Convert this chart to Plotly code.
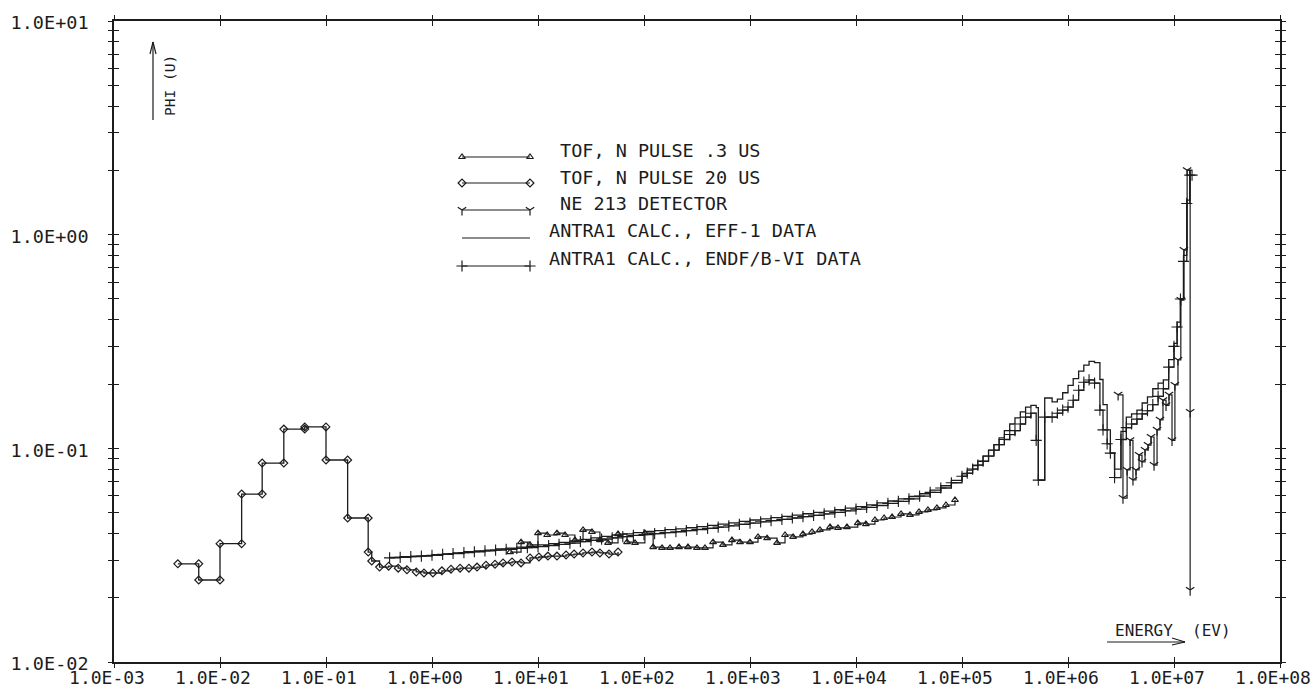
import plotly.graph_objects as go

# ---------------- data ----------------
# TOF, N PULSE 20 US : coarse thermal bins (bin edges in eV) and flux values
TOF20_COARSE_EDGES = [0.004, 0.0063, 0.01, 0.016, 0.025, 0.04, 0.063, 0.1, 0.16, 0.25]
TOF20_COARSE_PHI = [0.0288, 0.0242, 0.0358, 0.0611, 0.0853, 0.123, 0.126, 0.0882, 0.0472]
# TOF, N PULSE 20 US : fine bins (lower edge in eV) and flux values
TOF20_FINE_E = [0.25, 0.27, 0.32, 0.39, 0.48, 0.58, 0.71, 0.84, 1.02, 1.24,
                1.51, 1.84, 2.23, 2.66, 3.23, 3.93, 4.68, 5.69, 6.92, 8.41,
                10.2, 12.4, 15.1, 18.4, 21.9, 26.6, 32.3, 38.4, 46.8, 56.9]
TOF20_FINE_PHI = [0.0327, 0.0297, 0.0278, 0.0281, 0.0275, 0.0270, 0.0264, 0.0261, 0.0261, 0.0267,
                  0.0272, 0.0275, 0.0275, 0.0278, 0.0284, 0.0287, 0.0291, 0.0294, 0.0291, 0.0307,
                  0.0310, 0.0313, 0.0313, 0.0317, 0.0320, 0.0324, 0.0327, 0.0324, 0.0320, 0.0327]

# TOF, N PULSE .3 US
TOF03_E = [5.44, 6.92, 8.41, 10.0, 12.2, 15.1, 18.0, 22.3, 26.6, 32.3,
           38.4, 45.8, 56.9, 69.2, 82.3, 102, 122, 148, 176, 214,
           260, 316, 376, 448, 556, 676, 805, 1000, 1190, 1450,
           1800, 2140, 2550, 3160, 3850, 4570, 5690, 6760, 8220, 10400,
           12400, 15100, 18400, 21900, 26600, 32300, 39300, 47700, 58000, 70600, 85900]
TOF03_PHI = [0.0327, 0.0364, 0.0353, 0.0401, 0.0393, 0.0401, 0.0393, 0.0372, 0.0415, 0.0406,
             0.0372, 0.0361, 0.0397, 0.0364, 0.0361, 0.0401, 0.0345, 0.0342, 0.0342, 0.0345,
             0.0345, 0.0342, 0.0342, 0.0364, 0.0353, 0.0372, 0.0364, 0.0364, 0.0385, 0.0380,
             0.0361, 0.0393, 0.0385, 0.0397, 0.0406, 0.0415, 0.0428, 0.0424, 0.0428, 0.0447,
             0.0442, 0.0462, 0.0472, 0.0477, 0.0493, 0.0488, 0.0504, 0.0515, 0.0526, 0.0543, 0.0573]

# NE 213 DETECTOR
NE213_E = [2.97e6, 3.30e6, 3.61e6, 3.85e6, 4.10e6, 4.38e6, 4.68e6, 4.99e6, 5.33e6, 5.69e6,
           6.07e6, 6.48e6, 6.92e6, 7.38e6, 7.87e6, 8.41e6, 8.97e6, 9.58e6, 1.02e7, 1.09e7,
           1.16e7, 1.24e7, 1.33e7, 1.42e7, 1.42e7]
NE213_PHI = [0.178, 0.0585, 0.0792, 0.109, 0.0711, 0.0792, 0.0930, 0.0863, 0.0982, 0.1036,
             0.113, 0.0835, 0.122, 0.136, 0.168, 0.159, 0.178, 0.109, 0.198, 0.259,
             0.494, 0.847, 2.0, 0.148, 0.0217]

# ANTRA1 calculations: group boundaries (eV) and group fluxes
CALC_EDGES = [0.398, 0.501, 0.631, 0.794,
              1.0, 1.26, 1.58, 2.0, 2.51, 3.16, 3.98, 5.01, 6.31, 7.94,
              10, 12.6, 15.8, 20, 25.1, 31.6, 39.8, 50.1, 63.1, 79.4,
              100, 126, 158, 200, 251, 316, 398, 501, 631, 794,
              1e3, 1.26e3, 1.58e3, 2.0e3, 2.51e3, 3.16e3, 3.98e3, 5.01e3, 6.31e3, 7.94e3,
              1e4, 1.26e4, 1.58e4, 2.0e4, 2.51e4, 3.16e4, 3.98e4, 5.01e4, 6.31e4, 7.94e4,
              1e5, 1.12e5, 1.26e5, 1.41e5, 1.58e5, 1.78e5, 2.0e5, 2.24e5, 2.51e5, 2.82e5,
              3.16e5, 3.55e5, 3.98e5, 4.47e5, 5.01e5, 5.25e5, 6.03e5, 7.08e5, 7.94e5, 8.91e5,
              1e6, 1.12e6, 1.26e6, 1.41e6, 1.58e6, 1.78e6, 2.0e6, 2.14e6, 2.34e6, 2.51e6,
              2.75e6, 3.16e6, 3.55e6, 3.98e6, 4.47e6, 5.01e6, 5.62e6, 6.31e6, 7.08e6, 7.94e6,
              8.91e6, 1e7, 1.07e7, 1.15e7, 1.23e7, 1.32e7, 1.41e7, 1.48e7]
EFF1_PHI = [0.0309, 0.0311, 0.0313, 0.0315, 0.0318, 0.0321, 0.0324, 0.0328, 0.0331, 0.0334,
            0.0338, 0.0341, 0.0345, 0.0348, 0.0353, 0.0358, 0.0363, 0.0369, 0.0375, 0.0381,
            0.0387, 0.0393, 0.0398, 0.0403, 0.0408, 0.0412, 0.0416, 0.0420, 0.0425, 0.0430,
            0.0436, 0.0442, 0.0448, 0.0455, 0.0462, 0.0468, 0.0474, 0.0480, 0.0487, 0.0494,
            0.0501, 0.0508, 0.0516, 0.0525, 0.0534, 0.0544, 0.0555, 0.0567, 0.0580, 0.0595,
            0.0613, 0.0638, 0.0668, 0.0708,
            0.0760, 0.0790, 0.0830, 0.0870, 0.0920, 0.0980, 0.104, 0.112, 0.121, 0.130,
            0.139, 0.148, 0.156, 0.159, 0.155, 0.071, 0.172, 0.165, 0.170, 0.182,
            0.197, 0.212, 0.230, 0.245, 0.255, 0.252, 0.210, 0.160, 0.122, 0.095,
            0.080, 0.120, 0.140, 0.145, 0.151, 0.163, 0.174, 0.190, 0.202, 0.209,
            0.26, 0.31, 0.39, 0.50, 0.80, 1.45, 2.0]
ENDF_PHI = [0.0307, 0.0309, 0.0311, 0.0313, 0.0316, 0.0319, 0.0322, 0.0325, 0.0328, 0.0331,
            0.0334, 0.0337, 0.0340, 0.0343, 0.0347, 0.0351, 0.0355, 0.0360, 0.0366, 0.0371,
            0.0376, 0.0381, 0.0386, 0.0391, 0.0395, 0.0399, 0.0403, 0.0407, 0.0412, 0.0417,
            0.0422, 0.0428, 0.0434, 0.0441, 0.0447, 0.0453, 0.0459, 0.0465, 0.0472, 0.0479,
            0.0486, 0.0493, 0.0501, 0.0510, 0.0519, 0.0529, 0.0540, 0.0552, 0.0565, 0.0580,
            0.0598, 0.0622, 0.0652, 0.0690,
            0.0740, 0.0765, 0.0800, 0.0835, 0.0870, 0.0920, 0.0980, 0.104, 0.110, 0.116,
            0.121, 0.130, 0.140, 0.146, 0.109, 0.071, 0.140, 0.140, 0.146, 0.151,
            0.156, 0.168, 0.187, 0.204, 0.209, 0.202, 0.151, 0.122, 0.105, 0.095,
            0.073, 0.110, 0.125, 0.130, 0.137, 0.145, 0.150, 0.160, 0.175, 0.190,
            0.24, 0.30, 0.37, 0.50, 0.75, 1.40, 1.90]

X_TICK_VALUES = [1e-3, 1e-2, 1e-1, 1e0, 1e1, 1e2, 1e3, 1e4, 1e5, 1e6, 1e7, 1e8]
X_TICK_TEXT = ["1.0E-03", "1.0E-02", "1.0E-01", "1.0E+00", "1.0E+01", "1.0E+02",
               "1.0E+03", "1.0E+04", "1.0E+05", "1.0E+06", "1.0E+07", "1.0E+08"]
Y_TICK_VALUES = [1e-2, 1e-1, 1e0, 1e1]
Y_TICK_TEXT = ["1.0E-02", "1.0E-01", "1.0E+00", "1.0E+01"]
Y_MINOR_VALUES = [m * d for d in (1e-2, 1e-1, 1e0) for m in range(2, 10)]

LEGEND_LABELS = ["TOF, N PULSE .3 US", "TOF, N PULSE 20 US", "NE 213 DETECTOR",
                 "ANTRA1 CALC., EFF-1 DATA", "ANTRA1 CALC., ENDF/B-VI DATA"]

# ---------------- styling ----------------
INK = "#1c1c1c"
FONT = "DejaVu Sans Mono"
W, H = 1311, 689
L_PX, R_PX, T_PX, B_PX = 114, 1280, 21, 662

SYM_TRI = "triangle-up-open"
SYM_DIA = "diamond-open"
SYM_Y = "y-down-open"
SYM_PLUS = "cross-thin-open"


def step_corners(edges, vals):
    xs, ys = [], []
    for i, v in enumerate(vals):
        xs += [edges[i], edges[i + 1]]
        ys += [v, v]
    return xs, ys


def step_left(edges, vals):
    return list(edges[:len(vals)]) + [edges[len(vals)]], list(vals) + [vals[-1]]


fig = go.Figure()

# TOF 20 US: coarse corners + fine points
cx, cy = step_corners(TOF20_COARSE_EDGES, TOF20_COARSE_PHI)
fig.add_trace(go.Scatter(
    x=cx + TOF20_FINE_E, y=cy + TOF20_FINE_PHI, mode="lines+markers",
    line=dict(color=INK, width=1.3, shape="hv"),
    marker=dict(symbol=SYM_DIA, size=6, color=INK, line=dict(width=1.2, color=INK)),
    showlegend=False))

# TOF .3 US
fig.add_trace(go.Scatter(
    x=TOF03_E, y=TOF03_PHI, mode="lines+markers",
    line=dict(color=INK, width=1.2, shape="hv"),
    marker=dict(symbol=SYM_TRI, size=6, color=INK, line=dict(width=1.2, color=INK)),
    showlegend=False))

# EFF-1 calc
ex, ey = step_left(CALC_EDGES, EFF1_PHI)
fig.add_trace(go.Scatter(
    x=ex, y=ey, mode="lines", line=dict(color=INK, width=1.3, shape="hv"),
    showlegend=False))

# ENDF/B-VI calc
nx, ny = step_left(CALC_EDGES, ENDF_PHI)
fig.add_trace(go.Scatter(
    x=nx, y=ny, mode="lines+markers", line=dict(color=INK, width=1.3, shape="hv"),
    marker=dict(symbol=SYM_PLUS, size=8, color=INK, line=dict(width=1.1, color=INK)),
    showlegend=False))

# NE 213
fig.add_trace(go.Scatter(
    x=NE213_E, y=NE213_PHI, mode="lines+markers",
    line=dict(color=INK, width=1.2, shape="hv"),
    marker=dict(symbol=SYM_Y, size=7, color=INK, line=dict(width=1.2, color=INK)),
    showlegend=False))

# overlay axes for crossing ticks
fig.add_trace(go.Scatter(x=[], y=[], xaxis="x2", yaxis="y2", showlegend=False))

# overlay "pixel" axes for legend + decorations
legend_specs = [
    (SYM_TRI, 6, 157, 150, 558),
    (SYM_DIA, 6, 183, 177, 558),
    (SYM_Y, 7, 210, 203, 558),
    (None, 0, 238, 230, 547),
    (SYM_PLUS, 8, 266, 258, 547),
]
for (sym, size, ly, ty, tx), label in zip(legend_specs, LEGEND_LABELS):
    fig.add_trace(go.Scatter(
        x=[462, 530], y=[ly, ly], xaxis="x3", yaxis="y3",
        mode="lines+markers" if sym else "lines",
        line=dict(color=INK, width=1.2),
        marker=dict(symbol=sym or "circle", size=size, color=INK, line=dict(width=1.2, color=INK)),
        showlegend=False, hoverinfo="skip"))
    fig.add_annotation(x=tx, y=ty, xref="x3", yref="y3", text=label, showarrow=False,
                       xanchor="left", yanchor="middle",
                       font=dict(family=FONT, size=18.5, color=INK))

# PHI (U) label + arrow
fig.add_annotation(x=170, y=86, xref="x3", yref="y3", text="PHI (U)", showarrow=False,
                   textangle=-90, font=dict(family=FONT, size=14.5, color=INK))
# ENERGY (EV) label + arrow
fig.add_annotation(x=1113, y=630, xref="x3", yref="y3", text="ENERGY  (EV)", showarrow=False,
                   xanchor="left", yanchor="middle", font=dict(family=FONT, size=16, color=INK))

arrow_lines = [
    (153, 120, 153, 42), (153, 42, 150, 54), (153, 42, 156, 54),
    (1107, 642, 1185, 642), (1185, 642, 1172, 638), (1185, 642, 1172, 645),
]
for x0, y0, x1, y1 in arrow_lines:
    fig.add_shape(type="line", x0=x0, y0=y0, x1=x1, y1=y1, xref="x3", yref="y3",
                  line=dict(color=INK, width=1.2))

common_x = dict(type="log", range=[-3, 8], tickvals=X_TICK_VALUES, showgrid=False,
                zeroline=False, automargin=False)
common_y = dict(type="log", range=[-2, 1], tickvals=Y_TICK_VALUES, showgrid=False,
                zeroline=False, automargin=False)

fig.update_layout(
    width=W, height=H,
    margin=dict(l=L_PX, r=W - R_PX, t=T_PX, b=H - B_PX, autoexpand=False),
    paper_bgcolor="white", plot_bgcolor="white",
    font=dict(family=FONT, color=INK, size=16),
    xaxis=dict(**common_x, ticktext=X_TICK_TEXT, ticks="inside", ticklen=5, tickwidth=1.2,
               tickcolor=INK, showline=True, linecolor=INK, linewidth=1.5, mirror="ticks",
               tickfont=dict(family=FONT, size=18, color=INK), ticklabelstandoff=-1,
               ticklabelshift=-7, ticklabeloverflow="allow"),
    yaxis=dict(**common_y, ticktext=Y_TICK_TEXT, ticks="inside", ticklen=5, tickwidth=1.2,
               tickcolor=INK, showline=True, linecolor=INK, linewidth=1.5, mirror="ticks",
               tickfont=dict(family=FONT, size=18.5, color=INK), ticklabelstandoff=20,
               ticklabelshift=2, ticklabeloverflow="allow",
               minor=dict(tickvals=Y_MINOR_VALUES, ticks="inside", ticklen=5, tickwidth=1,
                          tickcolor=INK, showgrid=False)),
    xaxis2=dict(**common_x, overlaying="x", anchor="y", ticks="outside", ticklen=5, tickwidth=1.2,
                tickcolor=INK, showticklabels=False, showline=False, mirror="ticks"),
    yaxis2=dict(**common_y, overlaying="y", anchor="x", ticks="outside", ticklen=5, tickwidth=1.2,
                tickcolor=INK, showticklabels=False, showline=False, mirror="ticks",
                minor=dict(tickvals=Y_MINOR_VALUES, ticks="outside", ticklen=5, tickwidth=1,
                           tickcolor=INK, showgrid=False)),
    xaxis3=dict(overlaying="x", range=[L_PX, R_PX], visible=False, showgrid=False,
                automargin=False),
    yaxis3=dict(overlaying="y", range=[B_PX, T_PX], visible=False, showgrid=False,
                automargin=False),
)

fig.write_html("out.html", config={"displayModeBar": False},
               post_script="document.body.style.margin='0px';document.body.style.overflow='hidden';")
